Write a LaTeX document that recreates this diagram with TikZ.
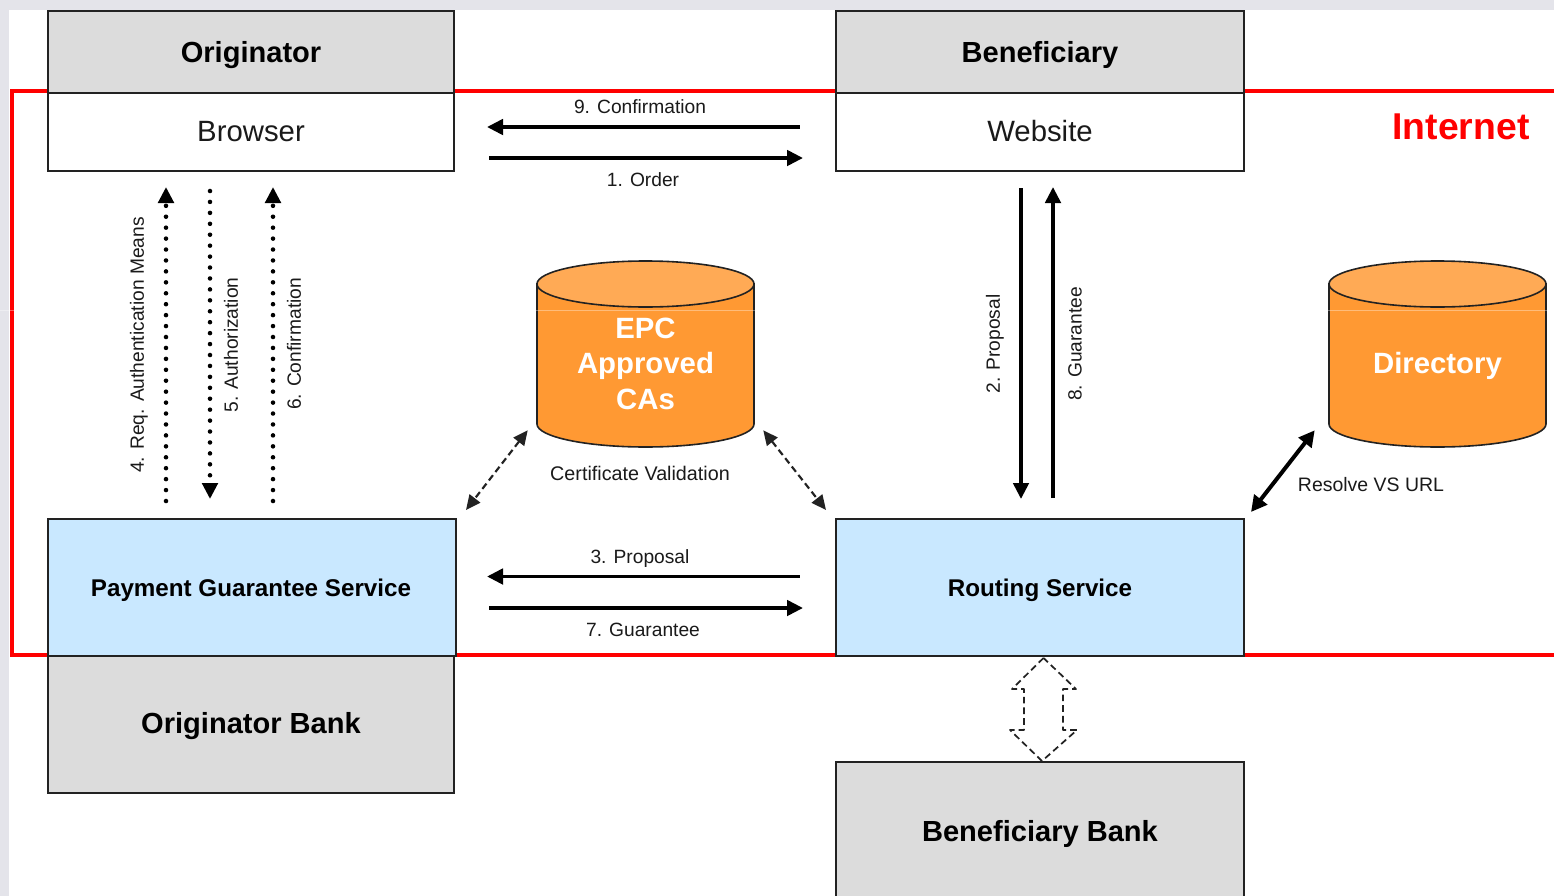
\documentclass[tikz,border=0pt]{standalone}
\usepackage{fontspec}
\setmainfont{Liberation Sans}
\usetikzlibrary{arrows.meta}
\definecolor{boxgrey}{HTML}{DCDCDC}
\definecolor{boxblue}{HTML}{C9E8FF}
\definecolor{cylbody}{HTML}{FF9933}
\definecolor{cyltop}{HTML}{FFAA55}
\definecolor{edgeline}{HTML}{222222}
\definecolor{backdrop}{HTML}{E4E4EA}
\definecolor{labelink}{HTML}{1A1A1A}
\newcommand{\fs}[1]{\fontsize{#1}{#1}\selectfont}
\tikzset{
  x=0.75pt, y=-0.75pt,
  basebox/.style={draw=edgeline, line width=1.5pt, inner sep=0pt, align=center, text=black, text depth=0pt},
  greybox/.style={basebox, fill=boxgrey, font=\fs{21.8}\bfseries},
  whitebox/.style={basebox, fill=white, font=\fs{22}, text=labelink, text depth=1.5pt},
  bluebox/.style={basebox, fill=boxblue, font=\fs{18.15}\bfseries},
  cyltext/.style={inner sep=0pt, text=white, align=center, font=\fs{22}\bfseries, text depth=0pt},
  cylshape/.style={draw=edgeline, line width=1.2pt, fill=cylbody},
  cyllid/.style={draw=edgeline, line width=1.2pt, fill=cyltop},
  flowlabel/.style={inner sep=0pt, font=\fs{14.4}, text=labelink, text depth=0pt},
  solidflow/.style={line width=2.8pt, draw=black, -{Triangle[length=12pt,width=11.5pt]}},
  dotflow/.style={line width=3.4pt, draw=black, line cap=round, dash pattern=on 0pt off 8.2pt,
    -{Triangle[length=12pt,width=11.5pt,line cap=butt]}},
  dashflow/.style={line width=1.6pt, draw=edgeline, dash pattern=on 5pt off 3pt,
    {Triangle[length=11pt,width=10pt]}-{Triangle[length=11pt,width=10pt]}},
  thickflow/.style={line width=3pt, draw=black,
    {Triangle[length=12pt,width=12pt]}-{Triangle[length=12pt,width=12pt]}},
  hollowflow/.style={line width=1.3pt, draw=edgeline, dash pattern=on 5pt off 3pt, line join=round}
}
\begin{document}
\begin{tikzpicture}
\useasboundingbox (0,0) rectangle (1554,896);
\fill[backdrop] (0,0) rectangle (1554,896);
\fill[white] (9,10) rectangle (1554,896);
% Internet boundary
\draw[red, line width=2.6pt] (1570,91) -- (12,91) -- (12,655) -- (1570,655);
\node[inner sep=0pt, text=red, font=\fs{28}\bfseries, text depth=0pt] (internet) at (1461,127) {Internet};
% boxes
\node[greybox, minimum width=304.5pt, minimum height=61.5pt] (orig) at (251,52) {Originator};
\node[whitebox, minimum width=304.5pt, minimum height=58.5pt] (browser) at (251,132) {Browser};
\node[greybox, minimum width=306pt, minimum height=61.5pt] (benef) at (1040,52) {Beneficiary};
\node[whitebox, minimum width=306pt, minimum height=58.5pt] (website) at (1040,132) {Website};
\node[bluebox, minimum width=306pt, minimum height=102.75pt] (pgs) at (252,587.5) {Payment Guarantee Service\hspace{1.5pt}};
\node[bluebox, minimum width=306pt, minimum height=102.75pt] (routing) at (1040,587.5) {Routing Service};
\node[greybox, minimum width=304.5pt, minimum height=102.75pt, text depth=2.2pt] (origbank) at (251,724.5) {Originator Bank};
\node[greybox, minimum width=306pt, minimum height=103.5pt] (benefbank) at (1040,831) {Beneficiary Bank};
% cylinders
\draw[cylshape] (537,284) -- (537,424) arc[start angle=180,end angle=360,x radius=108.5,y radius=-23] -- (754,284) -- cycle;
\draw[cyllid] (645.5,284) ellipse[x radius=108.5,y radius=23];
\draw[cylshape] (1329,284) -- (1329,424) arc[start angle=180,end angle=360,x radius=108.5,y radius=-23] -- (1546,284) -- cycle;
\draw[cyllid] (1437.5,284) ellipse[x radius=108.5,y radius=23];
\node[cyltext, minimum width=162.75pt, minimum height=139.5pt] (epc) at (645.5,354) {};
\node[cyltext, minimum width=162.75pt, minimum height=139.5pt] (dir) at (1437.5,354) {};
\node[cyltext] (epctext) at (645.5,363.5) {EPC\\[4.5pt]Approved\\[4.5pt]CAs};
\node[cyltext] (dirtext) at (1437.5,363) {Directory};
% faint scan line of the reference
\draw[white, opacity=0.35, line width=0.5pt] (0,310) -- (1554,310);
% horizontal flows
\draw[solidflow, shorten >=24pt, shorten <=26.5pt] ([shift={(0,-5)}]website.west) -- ([shift={(0,-5)}]browser.east);
\draw[solidflow, shorten >=24pt, shorten <=25.5pt] ([shift={(0,26)}]browser.east) -- ([shift={(0,26)}]website.west);
\draw[solidflow, shorten >=22.5pt, shorten <=26.5pt] ([shift={(0,-11)}]routing.west) -- ([shift={(0,-11)}]pgs.east);
\draw[solidflow, shorten >=24pt, shorten <=24pt] ([shift={(0,20.5)}]pgs.east) -- ([shift={(0,20.5)}]routing.west);
% vertical flows, website side
\draw[solidflow, shorten >=14.25pt, shorten <=12pt] ([shift={(-19,0)}]website.south) -- ([shift={(-19,0)}]routing.north);
\draw[solidflow, shorten >=11.25pt, shorten <=15pt] ([shift={(13,0)}]routing.north) -- ([shift={(13,0)}]website.south);
% dotted flows, browser side
\draw[dotflow] ([shift={(-86,-17)}]pgs.north) -- ([shift={(-85,15)}]browser.south);
\draw[dotflow] ([shift={(-41,19)}]browser.south) -- ([shift={(-42,-19)}]pgs.north);
\draw[dotflow] ([shift={(21,-17)}]pgs.north) -- ([shift={(22,15)}]browser.south);
% diagonal flows
\draw[dashflow] ([shift={(-9,-17)}]epc.south west) -- ([shift={(9,-8)}]pgs.north east);
\draw[dashflow] ([shift={(9,-17)}]epc.south east) -- ([shift={(-9,-8)}]routing.north west);
\draw[thickflow] ([shift={(-14,-17)}]dir.south west) -- ([shift={(6,-6)}]routing.north east);
% hollow double arrow
\draw[hollowflow] ([shift={(3.5,1)}]routing.south) -- (1012,689) -- (1024,689) -- (1024,730) -- (1010,730)
  -- ([shift={(2,0)}]benefbank.north) -- (1077,730) -- (1063,730) -- (1063,689) -- (1076,689) -- cycle;
% labels
\node[flowlabel] (l9) at (640,107) {9. Confirmation};
\node[flowlabel] (l1) at (643,180) {1. Order};
\node[flowlabel] (l3) at (640,557) {3. Proposal};
\node[flowlabel] (l7) at (643,630) {7. Guarantee};
\node[flowlabel, font=\fs{14.8}] (lc) at (640,473) {Certificate Validation};
\node[flowlabel, font=\fs{14.6}] (lr) at (1371,484) {Resolve VS URL};
\node[flowlabel, rotate=90] (l4) at (137,345) {4. Req. Authentication Means};
\node[flowlabel, rotate=90] (l5) at (231,345) {5. Authorization};
\node[flowlabel, rotate=90] (l6) at (294,344) {6. Confirmation};
\node[flowlabel, rotate=90] (l2) at (993,344) {2. Proposal};
\node[flowlabel, rotate=90] (l8) at (1075,344) {8. Guarantee};
\end{tikzpicture}
\end{document}
